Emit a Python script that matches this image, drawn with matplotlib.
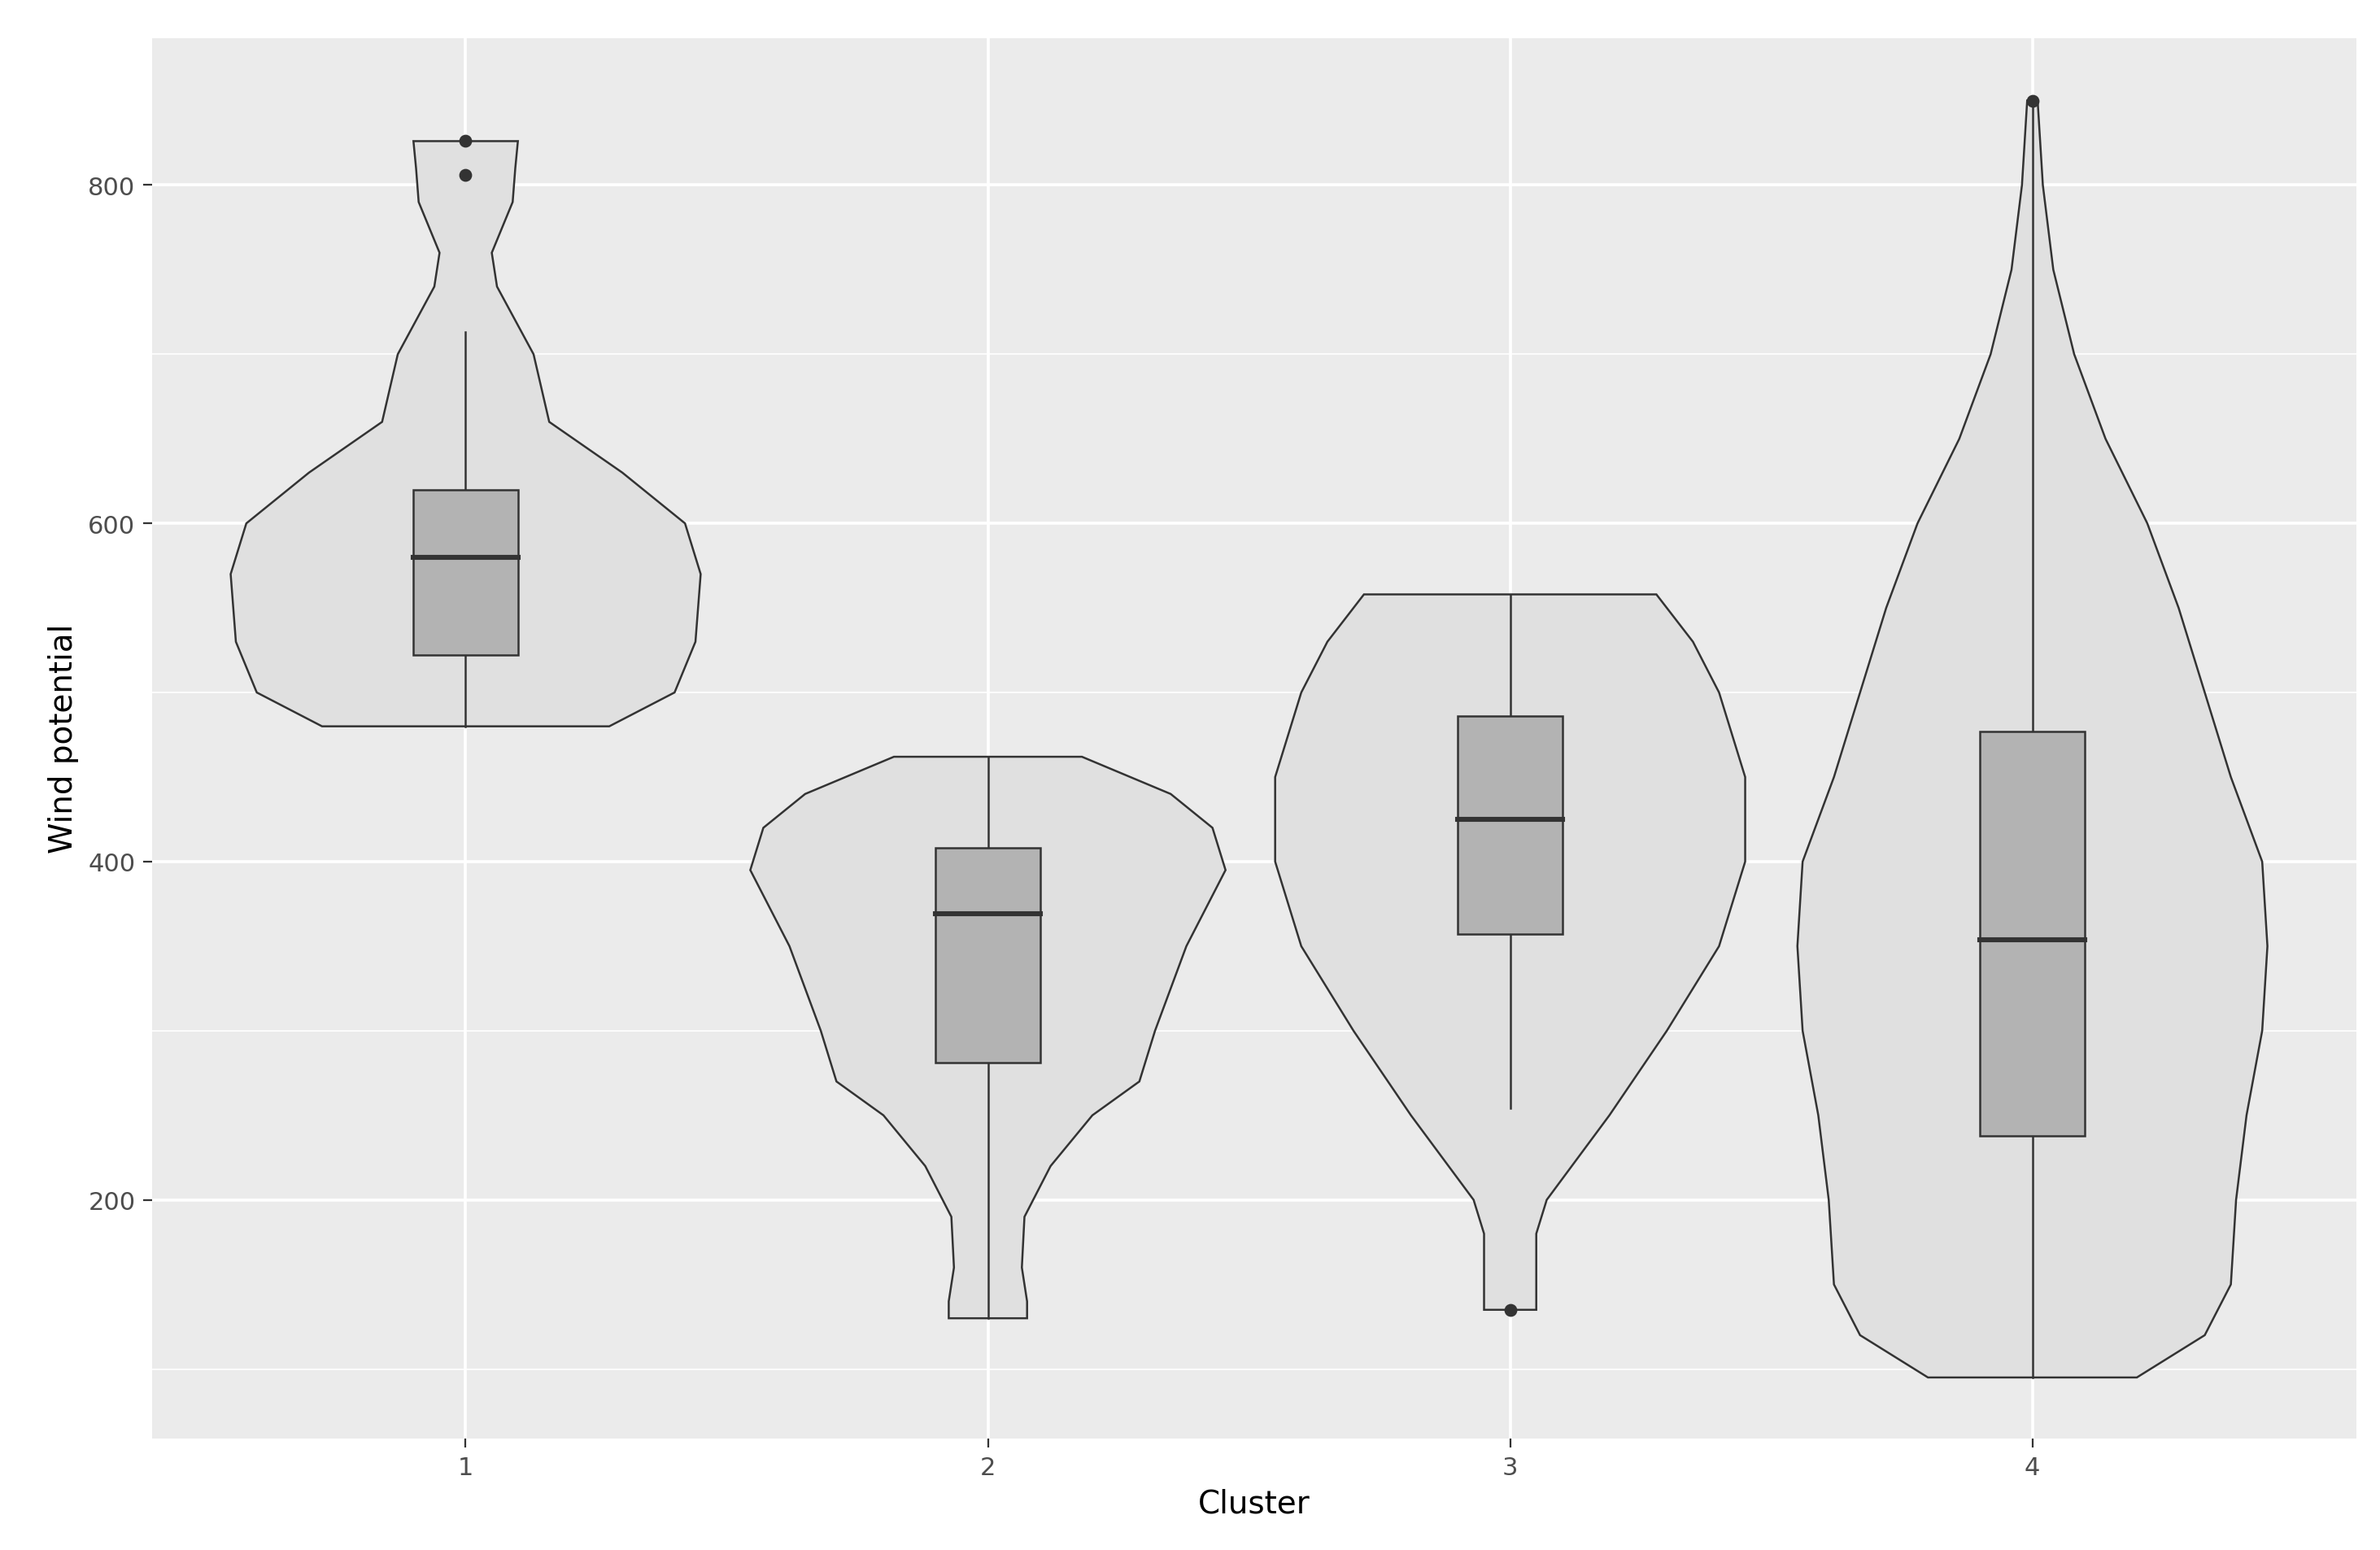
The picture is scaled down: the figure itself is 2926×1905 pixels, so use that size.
import numpy as np
import matplotlib.pyplot as plt

# violin outlines: (value, half-width in category units)
v1_y = [480, 500, 530, 570, 600, 630, 660, 700, 740, 760, 790, 810, 826]
v1_w = [0.275, 0.40, 0.44, 0.45, 0.42, 0.30, 0.16, 0.13, 0.06, 0.05, 0.09, 0.095, 0.10]
v2_y = [130, 140, 160, 190, 220, 250, 270, 300, 350, 395, 420, 440, 462]
v2_w = [0.075, 0.075, 0.065, 0.07, 0.12, 0.20, 0.29, 0.32, 0.38, 0.455, 0.43, 0.35, 0.18]
v3_y = [135, 140, 180, 200, 250, 300, 350, 400, 450, 500, 530, 558]
v3_w = [0.05, 0.05, 0.05, 0.07, 0.19, 0.30, 0.40, 0.45, 0.45, 0.40, 0.35, 0.28]
v4_y = [95, 120, 150, 200, 250, 300, 350, 400, 450, 500, 550, 600, 650, 700, 750, 800, 850]
v4_w = [0.20, 0.33, 0.38, 0.39, 0.41, 0.44, 0.45, 0.44, 0.38, 0.33, 0.28, 0.22, 0.14, 0.08, 0.04, 0.02, 0.01]

clusters = [1, 2, 3, 4]
q1 = [522, 281, 357, 238]
med = [580, 369, 425, 354]
q3 = [620, 408, 486, 477]
wlo = [480, 130, 254, 95]
whi = [713, 462, 558, 850]
outliers = [[806, 826], [], [135], [850]]

fig = plt.figure(figsize=(14.63, 9.53), dpi=200)
ax = fig.add_axes([0.064, 0.072, 0.926, 0.903])
ax.set_facecolor('#EBEBEB')
for s in ax.spines.values():
    s.set_visible(False)

ax.set_xlim(0.40, 4.62)
ax.set_ylim(59, 887)
ax.set_yticks([200, 400, 600, 800])
ax.set_yticks([100, 300, 500, 700], minor=True)
ax.set_xticks(clusters)
ax.grid(True, which='major', color='white', linewidth=1.3)
ax.grid(True, which='minor', axis='y', color='white', linewidth=0.6)
ax.set_axisbelow(True)
ax.tick_params(axis='both', which='major', colors='#333333', labelcolor='#4D4D4D',
               labelsize=11, length=4, width=0.8)
ax.tick_params(axis='y', which='minor', length=0)

violins = [(v1_y, v1_w), (v2_y, v2_w), (v3_y, v3_w), (v4_y, v4_w)]
for x, (vy, vw) in zip(clusters, violins):
    vy = np.array(vy)
    vw = np.array(vw)
    xs = np.concatenate([x - vw, (x + vw)[::-1]])
    ys = np.concatenate([vy, vy[::-1]])
    ax.fill(xs, ys, facecolor='#E0E0E0', edgecolor='#333333', linewidth=0.9, zorder=2)

bw = 0.1
for i, x in enumerate(clusters):
    ax.plot([x, x], [wlo[i], q1[i]], color='#333333', lw=0.9, zorder=3)
    ax.plot([x, x], [q3[i], whi[i]], color='#333333', lw=0.9, zorder=3)
    ax.add_patch(plt.Rectangle((x - bw, q1[i]), 2 * bw, q3[i] - q1[i],
                               facecolor='#B3B3B3', edgecolor='#333333', lw=0.9, zorder=3))
    ax.plot([x - bw, x + bw], [med[i], med[i]], color='#333333', lw=2.2, zorder=4)
    if outliers[i]:
        ax.scatter([x] * len(outliers[i]), outliers[i], s=22, color='#333333', zorder=5)

ax.set_xlabel('Cluster', fontsize=14)
ax.set_ylabel('Wind potential', fontsize=14)

fig.savefig('out.png', dpi=200)
